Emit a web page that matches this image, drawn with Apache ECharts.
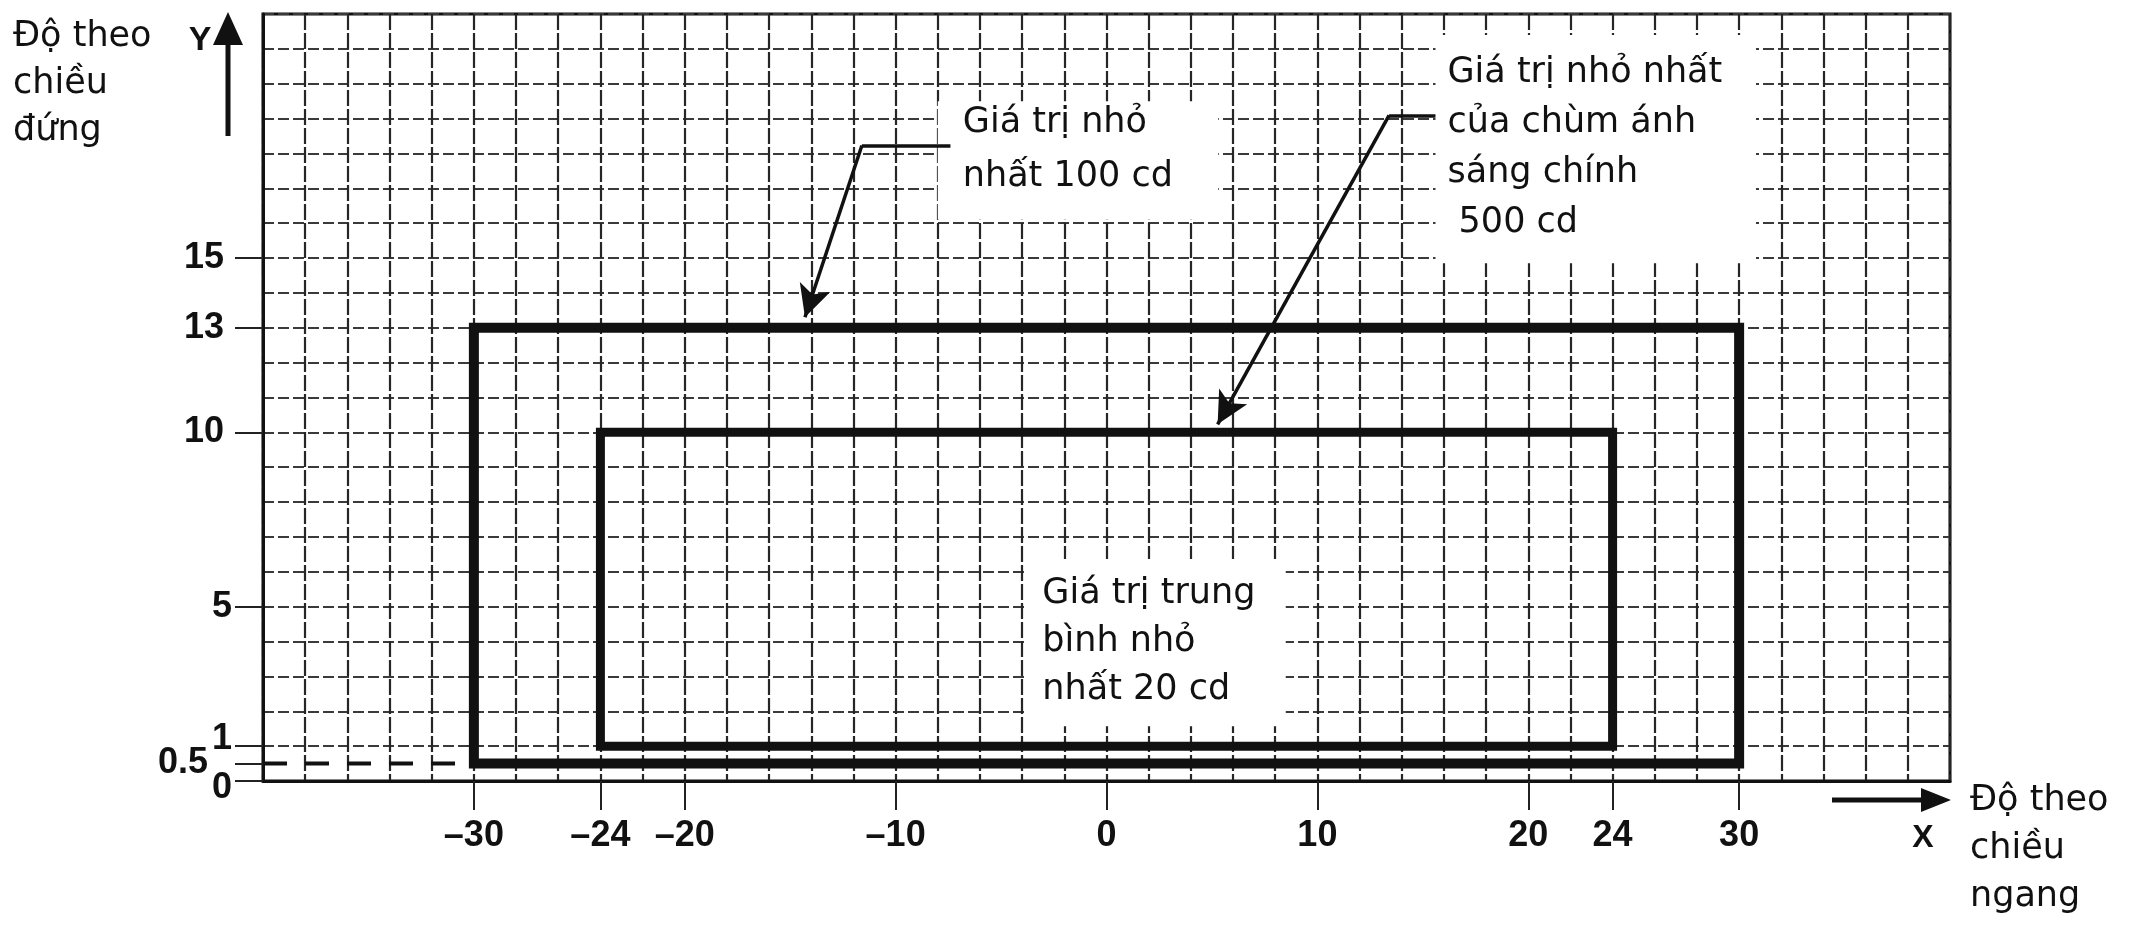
<!DOCTYPE html>
<html><head><meta charset="utf-8">
<script src="https://cdn.jsdelivr.net/npm/echarts@6/dist/echarts.min.js"></script>
<style>html,body{margin:0;padding:0;background:#fff}#c{width:2147px;height:933px}</style>
</head><body><div id="c"></div>
<script>
// ---- data ----
const xRange = [-40, 40];
const yRange = [0, 22];
const xTickValues = [-30, -24, -20, -10, 0, 10, 20, 24, 30];
const yTickValues = [0, 0.5, 1, 5, 10, 13, 15];
const outerRectX = [-30, -30, 30, 30, -30];
const outerRectY = [0.5, 13, 13, 0.5, 0.5];
const innerRectX = [-24, -24, 24, 24, -24];
const innerRectY = [1, 10, 10, 1, 1];
const halfLineX = [-40, -30];
const halfLineY = [0.5, 0.5];
const labelTexts = [
  'Giá trị nhỏ\nnhất 100 cd',
  'Giá trị nhỏ nhất\ncủa chùm ánh\nsáng chính\n 500 cd',
  'Giá trị trung\nbình nhỏ\nnhất 20 cd'
];
// leader lines: [start of horizontal, bend, arrow tip]
const leader100X = [-7.4, -11.6, -14.3];
const leader100Y = [18.23, 18.23, 13.3];
const leader500X = [15.6, 13.4, 5.27];
const leader500Y = [19.09, 19.09, 10.23];
const axisTitles = ['Độ theo\nchiều\nđứng', 'Độ theo\nchiều\nngang'];
const axisLetters = ['Y', 'X'];

// ---- layout / style ----
const INK = '#111';
const tickFont = '"Liberation Sans Narrow","Liberation Sans",Arial,sans-serif';
const textFont = '"DejaVu Sans",sans-serif';
const boxes = [
  { x: [-8.0, 5.3], y: [19.5, 16.1], off: [25, -5], lh: 54 },
  { x: [15.6, 30.8], y: [21.4, 14.85], off: [12, 13], lh: 50 },
  { x: [-3.85, 8.5], y: [6.37, 1.57], off: [17, 11], lh: 48 }
];
const pts = (xs, ys) => xs.map((x, i) => [x, ys[i]]);

const chart = echarts.init(document.getElementById('c'), null, { renderer: 'canvas' });

const fmtX = v => (v < 0 ? '\u2013' + (-v) : String(v));
const fmtY = v => {
  if (v === 0.5) return '{h|0.5}';
  if (v === 1) return '{d|1}\n{sp| }';
  if (v === 0) return '{sp| }\n{d|0}';
  return v >= 10 ? '{two|' + v + '}' : '{d|' + v + '}';
};
const lblBase = { fontFamily: tickFont, fontWeight: 'bold', fontSize: 36, color: INK };

const leaderLines = (xs, ys) => [
  [{ coord: [xs[0], ys[0]], symbol: 'none' }, { coord: [xs[1], ys[1]], symbol: 'none' }],
  [{ coord: [xs[1], ys[1]], symbol: 'none' }, { coord: [xs[2], ys[2]], symbol: 'arrow', symbolSize: [24, 32] }]
];

const option = {
  animation: false,
  backgroundColor: '#fff',
  grid: { left: 263, right: 197, top: 14, bottom: 152, show: true, borderColor: INK, borderWidth: 3,
          containLabel: false, outerBoundsMode: 'none' },
  xAxis: [
    { type: 'value', min: xRange[0], max: xRange[1], interval: 2, position: 'bottom',
      axisLine: { show: true, onZero: false, lineStyle: { color: INK, width: 3 } },
      axisTick: { show: false }, axisLabel: { show: false },
      splitLine: { show: true, lineStyle: { color: '#262626', width: 2.2, type: [16, 3] } } },
    { type: 'value', min: xRange[0], max: xRange[1], position: 'bottom',
      axisLine: { show: false, onZero: false },
      axisTick: { show: true, customValues: xTickValues, length: 29, inside: false, lineStyle: { color: '#222', width: 2 } },
      axisLabel: { show: true, customValues: xTickValues, formatter: fmtX, margin: 37, ...lblBase },
      splitLine: { show: false } }
  ],
  yAxis: [
    { type: 'value', min: yRange[0], max: yRange[1], interval: 1, position: 'left',
      axisLine: { show: true, onZero: false, lineStyle: { color: INK, width: 3 } },
      axisTick: { show: false }, axisLabel: { show: false },
      splitLine: { show: true, lineStyle: { color: '#3a3a3a', width: 2, type: [11, 4] } } },
    { type: 'value', min: yRange[0], max: yRange[1], position: 'left',
      axisLine: { show: false, onZero: false },
      axisTick: { show: true, customValues: yTickValues, length: 28, inside: false, lineStyle: { color: '#222', width: 2 } },
      axisLabel: { show: true, customValues: yTickValues, formatter: fmtY, margin: 31, ...lblBase,
        rich: {
          d: { ...lblBase },
          two: { ...lblBase, padding: [0, 8, 0, 0] },
          h: { ...lblBase, padding: [0, 24, 0, 0] },
          sp: { fontSize: 10, lineHeight: 14 }
        } },
      splitLine: { show: false } }
  ],
  series: [
    { // white label boxes with their texts
      type: 'line', data: [], z: 1, silent: true,
      markArea: {
        silent: true,
        itemStyle: { color: '#fff', borderWidth: 0 },
        emphasis: { disabled: true },
        data: boxes.map((b, i) => [
          { coord: [b.x[0], b.y[0]],
            label: { show: true, position: 'insideTopLeft', distance: 0, offset: b.off,
                     formatter: labelTexts[i], fontFamily: textFont, fontSize: 35,
                     lineHeight: b.lh, color: INK, align: 'left' } },
          { coord: [b.x[1], b.y[1]] }
        ])
      }
    },
    { // Giá trị nhỏ nhất 100 cd
      type: 'line', data: pts(outerRectX, outerRectY), z: 2, silent: true,
      showSymbol: false, symbol: 'none',
      lineStyle: { color: INK, width: 10, join: 'miter', cap: 'square' }
    },
    { // chùm ánh sáng chính 500 cd
      type: 'line', data: pts(innerRectX, innerRectY), z: 2, silent: true,
      showSymbol: false, symbol: 'none',
      lineStyle: { color: INK, width: 9, join: 'miter', cap: 'square' }
    },
    { // 0.5 dashed reference line
      type: 'line', data: pts(halfLineX, halfLineY), z: 2, silent: true,
      showSymbol: false, symbol: 'none',
      lineStyle: { color: INK, width: 4, type: [24, 18] }
    },
    { // leader lines with arrows
      type: 'line', data: [], z: 3, silent: true,
      markLine: {
        silent: true, animation: false,
        symbol: ['none', 'arrow'],
        symbolSize: [24, 32],
        label: { show: false },
        emphasis: { disabled: true },
        lineStyle: { color: INK, width: 3.5, type: 'solid' },
        data: [...leaderLines(leader100X, leader100Y), ...leaderLines(leader500X, leader500Y)]
      }
    }
  ],
  graphic: [
    { type: 'line', shape: { x1: 228, y1: 136, x2: 228, y2: 40 }, style: { stroke: INK, lineWidth: 5 } },
    { type: 'polygon', shape: { points: [[213, 45], [228, 12], [243, 45]] }, style: { fill: INK } },
    { type: 'text', x: 200, y: 41, style: { text: axisLetters[0], font: 'bold 34px ' + tickFont, fill: INK, align: 'center', verticalAlign: 'middle' } },
    { type: 'text', x: 13, y: 13, style: { text: axisTitles[0], font: '35px ' + textFont, lineHeight: 47, fill: INK, align: 'left', verticalAlign: 'top' } },
    { type: 'line', shape: { x1: 1832, y1: 800, x2: 1925, y2: 800 }, style: { stroke: INK, lineWidth: 5 } },
    { type: 'polygon', shape: { points: [[1921, 788], [1951, 800], [1921, 812]] }, style: { fill: INK } },
    { type: 'text', x: 1923, y: 838, style: { text: axisLetters[1], font: 'bold 32px ' + tickFont, fill: INK, align: 'center', verticalAlign: 'middle' } },
    { type: 'text', x: 1970, y: 777, style: { text: axisTitles[1], font: '35px ' + textFont, lineHeight: 48, fill: INK, align: 'left', verticalAlign: 'top' } }
  ]
};
chart.setOption(option);
</script>
</body></html>
